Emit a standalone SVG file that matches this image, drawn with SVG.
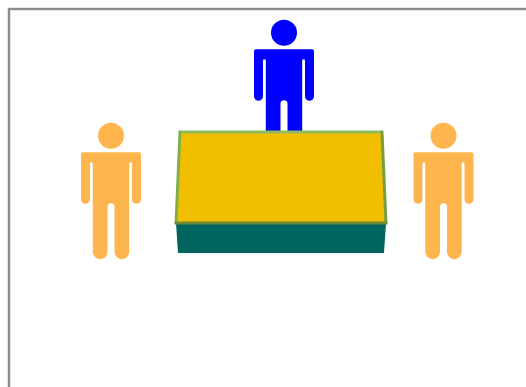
<svg xmlns="http://www.w3.org/2000/svg" width="526" height="387" viewBox="0 0 526 387">
<defs>
<g id="person">
<circle cx="0" cy="0" r="13"/>
<path d="M-28 16.6H28A2 2 0 0 1 30 18.6V63.5A4.5 4.5 0 0 1 21 63.5V28A1.4 1.4 0 0 0 18.2 28V115C18.2 120.5 15 123.5 10.8 123.5S3.5 120.5 3.5 115V71A3.5 3.5 0 0 0 -3.5 71V115C-3.5 120.5 -6.6 123.5 -10.8 123.5S-18.2 120.5 -18.2 115V28A1.4 1.4 0 0 0 -21 28V63.5A4.5 4.5 0 0 1 -30 63.5V18.6A2 2 0 0 1 -28 16.6Z"/>
</g>
</defs>
<style>
.frame{fill:#fff;stroke:#8c8c8c;stroke-width:2.4}
.guest{fill:#ffb54d}
.host{fill:#00f}
.front{fill:#00645f}
.top{fill:#f2bf00}
.edge{stroke-width:3;stroke-linecap:round;fill:none}
</style>
<rect width="526" height="387" fill="#fff"/>
<rect id="frame" class="frame" x="9" y="9" width="530" height="390"/>
<g id="person-top" class="host"><use href="#person" x="284" y="32.7"/></g>
<g id="person-left" class="guest"><use href="#person" x="111" y="135.7"/></g>
<g id="person-right" class="guest"><use href="#person" x="443.5" y="135.7"/></g>
<g id="table">
<polygon class="front" points="176,223 386,223 384,253 178,253"/>
<polygon class="top" points="180,132 382,132 386,223 176,223"/>
<line class="edge" x1="180" y1="132" x2="382" y2="132" stroke="#8fbc5c"/>
<line class="edge" x1="180" y1="132" x2="176" y2="223" stroke="#7fae4a"/>
<line class="edge" x1="382" y1="132" x2="386" y2="223" stroke="#779e40"/>
<line class="edge" x1="176" y1="223" x2="386" y2="223" stroke="#6e8a38"/>
</g>
<g id="connectors"/>
</svg>
